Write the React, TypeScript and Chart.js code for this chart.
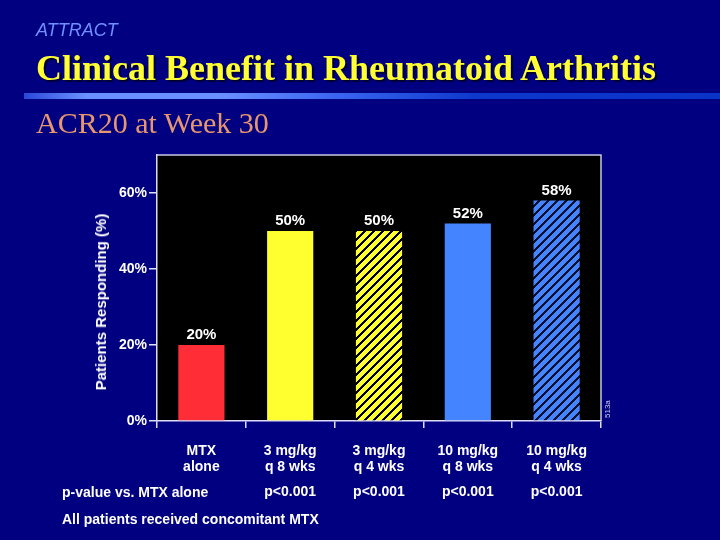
import React, { useEffect, useRef } from "react";
import { Chart, registerables } from "chart.js";

Chart.register(...registerables);

const categories: string[][] = [
  ["MTX", "alone"],
  ["3 mg/kg", "q 8 wks"],
  ["3 mg/kg", "q 4 wks"],
  ["10 mg/kg", "q 8 wks"],
  ["10 mg/kg", "q 4 wks"],
];
const responding: number[] = [20, 50, 50, 52, 58];
const pValues: string[] = ["", "p<0.001", "p<0.001", "p<0.001", "p<0.001"];
const yTicks: number[] = [0, 20, 40, 60];
const yTitle = "Patients Responding (%)";

const NAVY = "#000080";
const AXIS = "rgb(222,222,248)";

function hexToRgb(h: string): number[] {
  const n = parseInt(h.slice(1), 16);
  return [(n >> 16) & 255, (n >> 8) & 255, n & 255];
}

function makeHatch(bg: string, stripe: string): CanvasPattern | string {
  const c = document.createElement("canvas");
  const s = 9;
  c.width = s;
  c.height = s;
  const g = c.getContext("2d");
  if (!g) return bg;
  const img = g.createImageData(s, s);
  const b = hexToRgb(bg);
  const f = hexToRgb(stripe);
  for (let y = 0; y < s; y++) {
    for (let x = 0; x < s; x++) {
      const on = (x + y) % s < 3;
      const col = on ? f : b;
      const i = (y * s + x) * 4;
      img.data[i] = col[0];
      img.data[i + 1] = col[1];
      img.data[i + 2] = col[2];
      img.data[i + 3] = 255;
    }
  }
  g.putImageData(img, 0, 0);
  const p = g.createPattern(c, "repeat");
  return p || bg;
}

export default function App() {
  const ref = useRef<HTMLCanvasElement | null>(null);

  useEffect(() => {
    if (!ref.current) return;
    const colors = [
      "#ff2d35",
      "#ffff30",
      makeHatch("#ffff30", "#000000"),
      "#4485ff",
      makeHatch("#4485ff", "#08102e"),
    ];

    const plotBg = {
      id: "plotBg",
      beforeDraw(chart: any) {
        const { ctx, chartArea: a } = chart;
        ctx.save();
        ctx.fillStyle = "#000000";
        ctx.fillRect(a.left, a.top, a.right - a.left, a.bottom - a.top);
        ctx.strokeStyle = "rgb(200,200,228)";
        ctx.lineWidth = 1.5;
        ctx.beginPath();
        ctx.moveTo(a.left, a.top);
        ctx.lineTo(a.right, a.top);
        ctx.lineTo(a.right, a.bottom);
        ctx.stroke();
        ctx.restore();
      },
    };

    const labels = {
      id: "labels",
      afterDatasetsDraw(chart: any) {
        const { ctx } = chart;
        const meta = chart.getDatasetMeta(0);
        ctx.save();
        ctx.fillStyle = "#ffffff";
        ctx.font = "bold 15px 'Liberation Sans', Arial, sans-serif";
        ctx.textAlign = "center";
        ctx.textBaseline = "middle";
        meta.data.forEach((bar: any, i: number) => {
          ctx.fillText(responding[i] + "%", bar.x, bar.y - 10);
        });
        ctx.font = "bold 14px 'Liberation Sans', Arial, sans-serif";
        const xs = chart.scales.x;
        pValues.forEach((p, i) => {
          if (!p) return;
          ctx.fillText(p, xs.getPixelForValue(i), 492);
        });
        ctx.restore();
      },
    };

    const chart = new Chart(ref.current, {
      type: "bar",
      data: {
        labels: categories,
        datasets: [
          {
            data: responding,
            backgroundColor: colors as any,
            borderWidth: 0,
            barPercentage: 0.52,
            categoryPercentage: 1,
          },
        ],
      },
      plugins: [plotBg, labels],
      options: {
        responsive: false,
        animation: false,
        events: [],
        layout: { padding: { top: 155, right: 119, left: 92, bottom: 0 } },
        plugins: {
          legend: { display: false },
          tooltip: { enabled: false },
        },
        scales: {
          x: {
            afterFit(s: any) {
              s.height = 119;
            },
            border: { color: AXIS, width: 1.5 },
            grid: {
              offset: true,
              drawOnChartArea: false,
              drawTicks: true,
              tickLength: 7,
              color: AXIS,
              lineWidth: 1.5,
            },
            ticks: {
              color: "#ffffff",
              padding: 15,
              font: { family: "'Liberation Sans', Arial, sans-serif", size: 14, weight: "bold", lineHeight: 1.15 },
            },
          },
          y: {
            min: 0,
            max: 70,
            afterFit(s: any) {
              s.width = 65;
            },
            afterBuildTicks(s: any) {
              s.ticks = yTicks.map((v) => ({ value: v }));
            },
            border: { color: AXIS, width: 1.5 },
            grid: {
              drawOnChartArea: false,
              drawTicks: true,
              tickLength: 8,
              color: AXIS,
              lineWidth: 1.5,
            },
            ticks: {
              color: "#ffffff",
              padding: 2,
              font: { family: "'Liberation Sans', Arial, sans-serif", size: 14, weight: "bold" },
              callback: (v: any) => v + "%",
            },
          },
        },
      },
    } as any);
    return () => chart.destroy();
  }, []);

  const sans = "'Liberation Sans', Arial, sans-serif";
  const serif = "'Liberation Serif', 'Times New Roman', serif";

  return (
    <div
      style={{
        position: "fixed",
        left: 0,
        top: 0,
        width: 720,
        height: 540,
        background: NAVY,
        overflow: "hidden",
      }}
    >
      <canvas ref={ref} width={720} height={540} style={{ position: "absolute", left: 0, top: 0 }} />
      <div
        style={{
          position: "absolute",
          left: 36,
          top: 20,
          fontFamily: sans,
          fontStyle: "italic",
          fontSize: 18,
          lineHeight: "20px",
          color: "#7090ff",
        }}
      >
        ATTRACT
      </div>
      <div
        style={{
          position: "absolute",
          left: 36,
          top: 48,
          fontFamily: serif,
          fontWeight: "bold",
          fontSize: 36,
          lineHeight: "40px",
          color: "#ffff33",
          textShadow: "2px 2px 1px #000030",
          whiteSpace: "nowrap",
        }}
      >
        Clinical Benefit in Rheumatoid Arthritis
      </div>
      <div
        style={{
          position: "absolute",
          left: 24,
          top: 93,
          width: 696,
          height: 6,
          background:
            "linear-gradient(to right, #2a48d8 0%, #6a90ff 9%, #6a90ff 28%, #3a64f0 45%, #0d38cc 65%, #0a33c8 100%)",
        }}
      />
      <div
        style={{
          position: "absolute",
          left: 36,
          top: 106,
          fontFamily: serif,
          fontSize: 30,
          lineHeight: "34px",
          color: "#e8966e",
          whiteSpace: "nowrap",
        }}
      >
        ACR20 at Week 30
      </div>
      <div
        style={{
          position: "absolute",
          left: 101,
          top: 302,
          width: 0,
          height: 0,
        }}
      >
        <div
          style={{
            position: "absolute",
            left: 0,
            top: 0,
            fontFamily: sans,
            fontWeight: "bold",
            fontSize: 15,
            lineHeight: "18px",
            color: "#ffffff",
            whiteSpace: "nowrap",
            transform: "translate(-50%, -50%) rotate(-90deg)",
          }}
        >
          {yTitle}
        </div>
      </div>
      <div
        style={{
          position: "absolute",
          left: 62,
          top: 483,
          fontFamily: sans,
          fontWeight: "bold",
          fontSize: 14,
          lineHeight: "18px",
          color: "#ffffff",
          whiteSpace: "nowrap",
        }}
      >
        p-value vs. MTX alone
      </div>
      <div
        style={{
          position: "absolute",
          left: 62,
          top: 510,
          fontFamily: sans,
          fontWeight: "bold",
          fontSize: 14,
          lineHeight: "18px",
          color: "#ffffff",
          whiteSpace: "nowrap",
        }}
      >
        All patients received concomitant MTX
      </div>
      <div
        style={{
          position: "absolute",
          left: 603,
          top: 418,
          fontFamily: sans,
          fontSize: 8,
          lineHeight: "10px",
          color: "#c8c8e0",
          transform: "rotate(-90deg)",
          transformOrigin: "left top",
          whiteSpace: "nowrap",
        }}
      >
        513a
      </div>
    </div>
  );
}
